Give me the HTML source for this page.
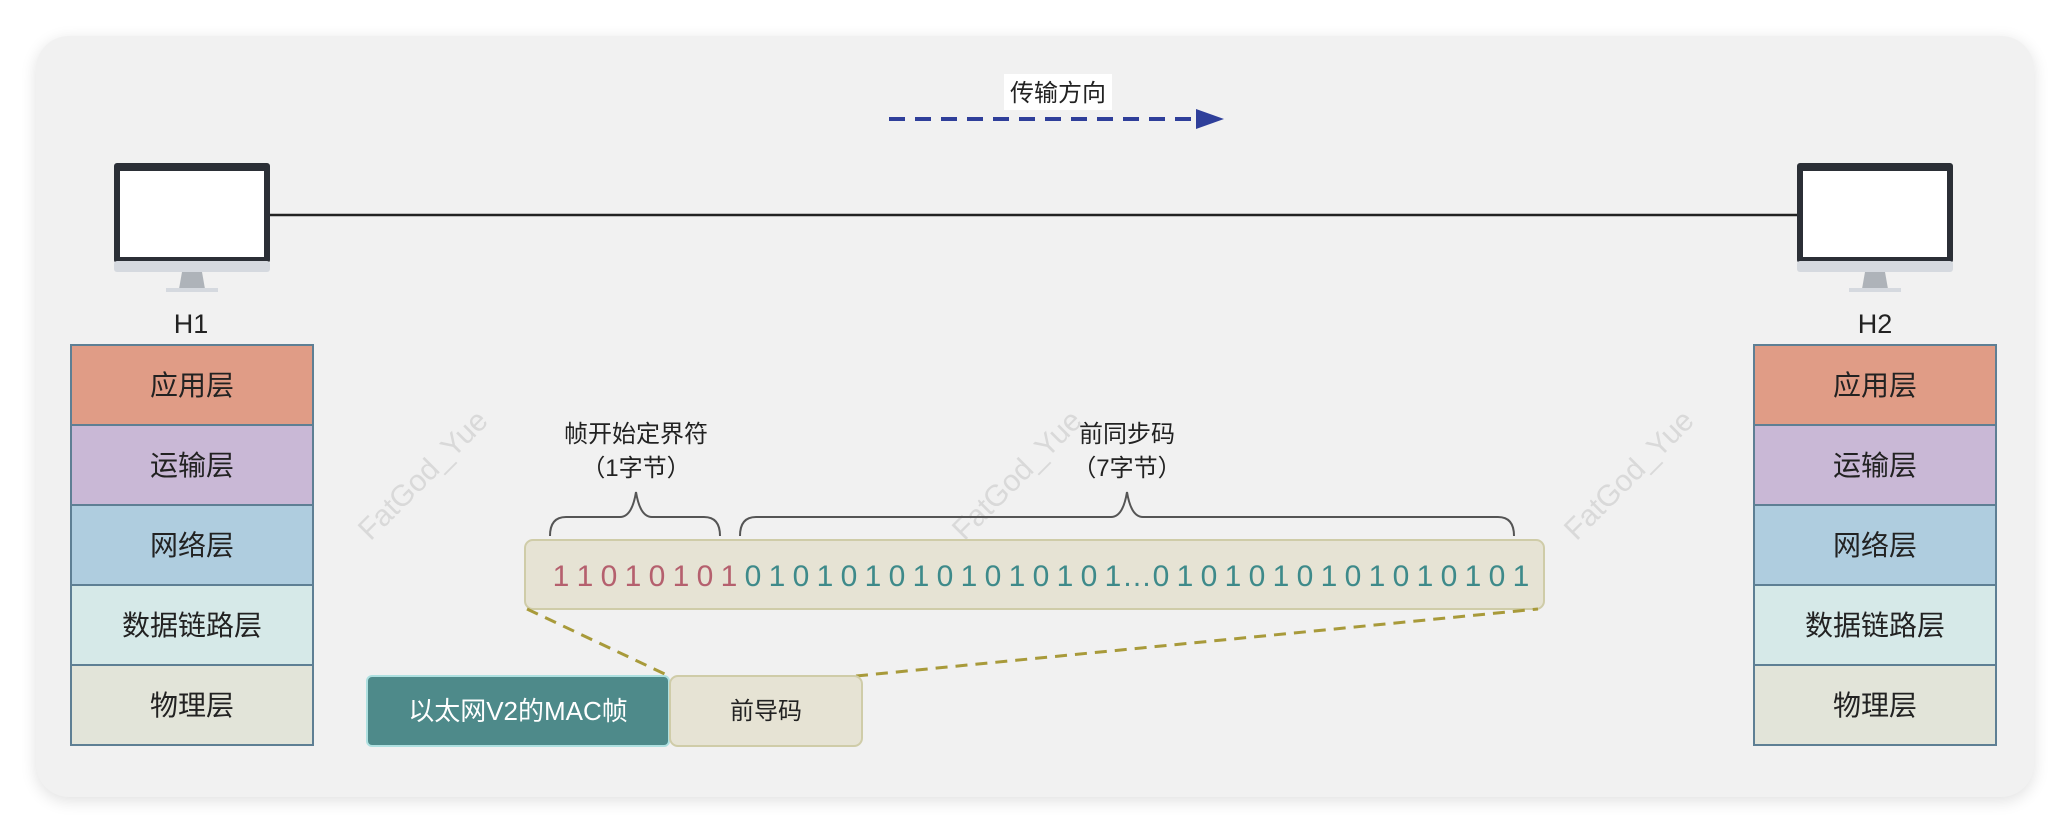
<!DOCTYPE html>
<html><head><meta charset="utf-8"><style>
body{margin:0;width:2072px;height:832px;background:#fff;overflow:hidden;font-family:"Liberation Sans","Noto Sans CJK SC",sans-serif;}
</style></head><body>
<svg width="2072" height="832" xmlns="http://www.w3.org/2000/svg" style="position:absolute;left:0;top:0">
<defs><filter id="sh" x="-5%" y="-5%" width="110%" height="110%"><feGaussianBlur stdDeviation="8"/></filter></defs>
<rect x="36" y="40" width="1998" height="761" rx="33" fill="#000" opacity="0.12" filter="url(#sh)"/>
<rect x="36" y="36" width="1998" height="761" rx="33" fill="#f1f1f1"/>
<g font-family="Liberation Sans" font-size="30" fill="#d9d9d9">
<text transform="translate(430,482) rotate(-45)" text-anchor="middle">FatGod_Yue</text>
<text transform="translate(1024,482) rotate(-45)" text-anchor="middle">FatGod_Yue</text>
<text transform="translate(1636,482) rotate(-45)" text-anchor="middle">FatGod_Yue</text>
</g>
<rect x="1004" y="74" width="108" height="36" fill="#fff"/>
<text x="1058" y="101" text-anchor="middle" font-size="24" font-family="Liberation Sans,Noto Sans CJK SC,sans-serif" fill="#222">传输方向</text>
<line x1="889" y1="119" x2="1198" y2="119" stroke="#2f3f9a" stroke-width="4" stroke-dasharray="16,10"/>
<polygon points="1196,109 1224,119 1196,129" fill="#2f3f9a"/>
<line x1="270" y1="215" x2="1797" y2="215" stroke="#222" stroke-width="2.5"/>
<g id="m1">
<rect x="114" y="163" width="156" height="100" rx="3" fill="#2b2f36"/>
<rect x="120" y="171" width="144" height="86" fill="#fff"/>
<rect x="114" y="261" width="156" height="11" rx="3" fill="#d5d9df"/>
<polygon points="182,272 202,272 205,289 179,289" fill="#aeb3b9"/>
<rect x="166" y="288" width="52" height="4" fill="#d5d9df"/>
</g>
<g transform="translate(1683,0)">
<rect x="114" y="163" width="156" height="100" rx="3" fill="#2b2f36"/>
<rect x="120" y="171" width="144" height="86" fill="#fff"/>
<rect x="114" y="261" width="156" height="11" rx="3" fill="#d5d9df"/>
<polygon points="182,272 202,272 205,289 179,289" fill="#aeb3b9"/>
<rect x="166" y="288" width="52" height="4" fill="#d5d9df"/>
</g>
<g font-size="27" fill="#222" text-anchor="middle" font-family="Liberation Sans,Noto Sans CJK SC,sans-serif">
<text x="191" y="333">H1</text><text x="1875" y="333">H2</text>
</g>
<g id="st" stroke="#5e7f94" stroke-width="2" font-size="28" font-family="Liberation Sans,Noto Sans CJK SC,sans-serif" text-anchor="middle">
<rect x="71" y="345" width="242" height="80" fill="#e09c86"/>
<rect x="71" y="425" width="242" height="80" fill="#c9b8d6"/>
<rect x="71" y="505" width="242" height="80" fill="#afcddf"/>
<rect x="71" y="585" width="242" height="80" fill="#d6e9e8"/>
<rect x="71" y="665" width="242" height="80" fill="#e2e4d9"/>
<g stroke="none" fill="#222">
<text x="192" y="395">应用层</text><text x="192" y="475">运输层</text><text x="192" y="555">网络层</text><text x="192" y="635">数据链路层</text><text x="192" y="715">物理层</text>
</g></g>
<g transform="translate(1683,0)" stroke="#5e7f94" stroke-width="2" font-size="28" font-family="Liberation Sans,Noto Sans CJK SC,sans-serif" text-anchor="middle">
<rect x="71" y="345" width="242" height="80" fill="#e09c86"/>
<rect x="71" y="425" width="242" height="80" fill="#c9b8d6"/>
<rect x="71" y="505" width="242" height="80" fill="#afcddf"/>
<rect x="71" y="585" width="242" height="80" fill="#d6e9e8"/>
<rect x="71" y="665" width="242" height="80" fill="#e2e4d9"/>
<g stroke="none" fill="#222">
<text x="192" y="395">应用层</text><text x="192" y="475">运输层</text><text x="192" y="555">网络层</text><text x="192" y="635">数据链路层</text><text x="192" y="715">物理层</text>
</g></g>
<g font-size="24" fill="#222" text-anchor="middle" font-family="Liberation Sans,Noto Sans CJK SC,sans-serif">
<text x="636" y="442">帧开始定界符</text><text x="636" y="476">（1字节）</text>
<text x="1127" y="442">前同步码</text><text x="1127" y="476">（7字节）</text>
</g>
<g fill="none" stroke="#555" stroke-width="2">
<path d="M550,536 Q550,517 566,517 L620,517 Q632,517 636,492 Q640,517 652,517 L704,517 Q720,517 720,536"/>
<path d="M740,536 Q740,517 756,517 L1111,517 Q1123,517 1127,492 Q1131,517 1143,517 L1498,517 Q1514,517 1514,536"/>
</g>
<rect x="525" y="540" width="1019" height="69" rx="8" fill="#e6e3d4" stroke="#cfcca8" stroke-width="2"/>
<g font-family="Liberation Sans,sans-serif" font-size="30" text-anchor="middle">
<text fill="#b5606e" y="586" x="561 585 609 633 657 681 705 729">11010101</text>
<text fill="#3e8a8a" y="586" x="753 777 801 825 849 873 897 921 945 969 993 1017 1041 1065 1089 1113 1137 1161 1185 1209 1233 1257 1281 1305 1329 1353 1377 1401 1425 1449 1473 1497 1521">0101010101010101…0101010101010101</text>
</g>
<line x1="527" y1="609" x2="669" y2="676" stroke="#a89a3a" stroke-width="3" stroke-dasharray="12,8"/>
<line x1="856" y1="676" x2="1538" y2="609" stroke="#a89a3a" stroke-width="3" stroke-dasharray="12,8"/>
<rect x="367" y="676" width="302" height="70" rx="5" fill="#4e8a8a" stroke="#aee0e0" stroke-width="2"/>
<text x="518" y="720" text-anchor="middle" font-size="26" fill="#fff" font-family="Liberation Sans,Noto Sans CJK SC,sans-serif">以太网V2的MAC帧</text>
<rect x="670" y="676" width="192" height="70" rx="8" fill="#e6e3d4" stroke="#cfcca8" stroke-width="2"/>
<text x="766" y="719" text-anchor="middle" font-size="24" fill="#222" font-family="Liberation Sans,Noto Sans CJK SC,sans-serif">前导码</text>
</svg>
</body></html>
